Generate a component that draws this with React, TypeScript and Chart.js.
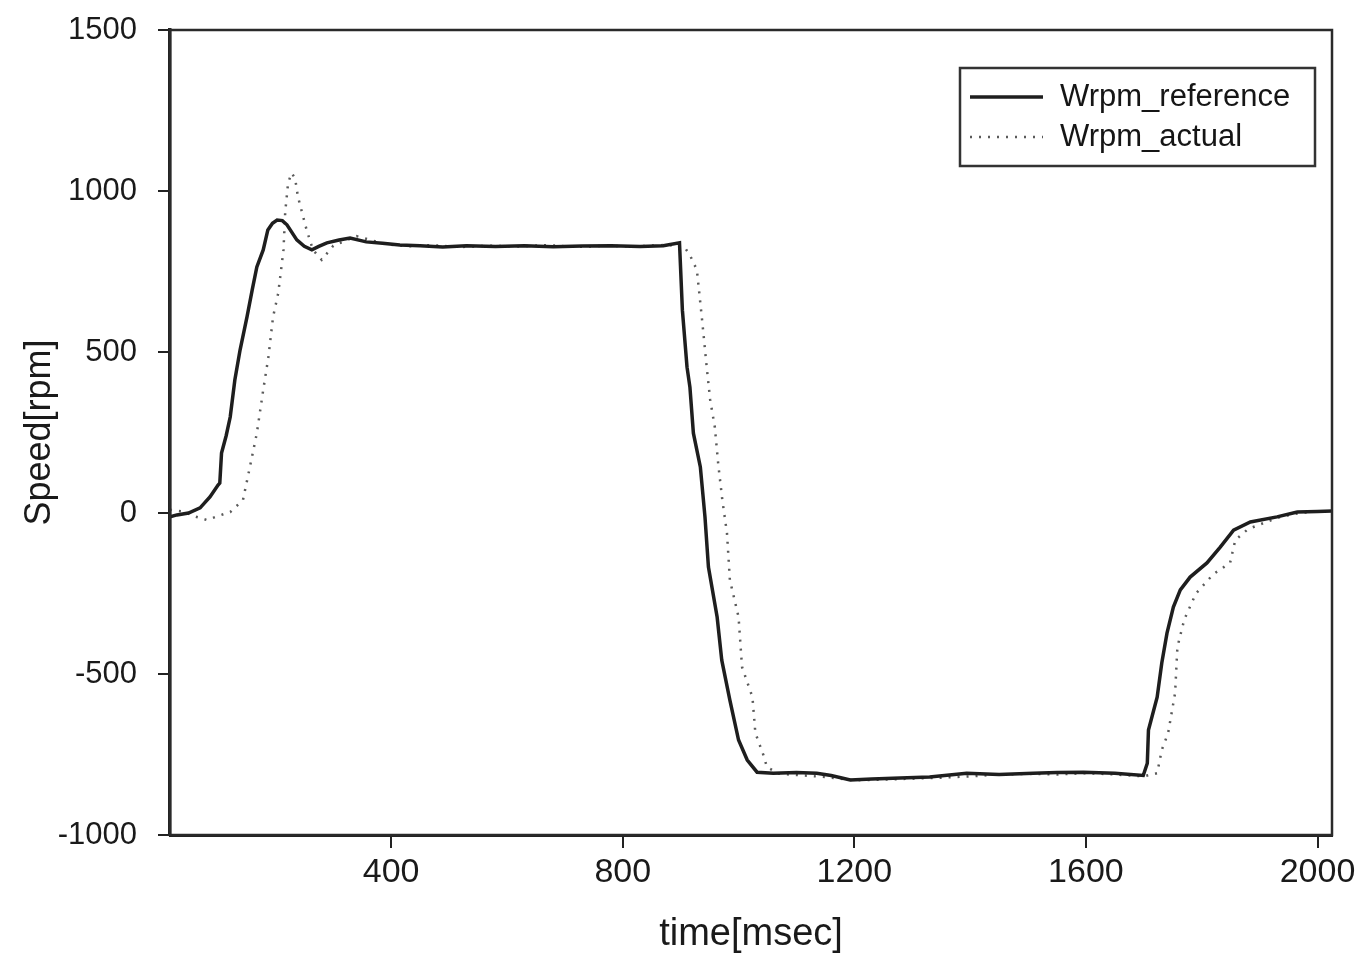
import React, { useEffect, useRef } from "react";
import { Chart, registerables } from "chart.js";
Chart.register(...registerables);

const refTime = [
  18, 30, 50, 70, 87, 101, 104, 107, 115, 122,
  130, 139, 151, 160, 168, 179, 187, 195, 203, 212,
  220, 237, 250, 263, 275, 289, 310, 329, 357, 385,
  415, 450, 489, 530, 580, 630, 680, 730, 780, 830,
  870, 898, 903, 911, 916, 922, 934, 942, 948, 963,
  971, 985, 1000, 1015, 1032, 1060, 1100, 1135, 1160, 1193,
  1230, 1279, 1330, 1394, 1450, 1509, 1550, 1596, 1650, 1699,
  1706, 1708, 1723, 1731, 1740, 1751, 1763, 1780, 1809, 1832,
  1855, 1884, 1930, 1965, 2000, 2025,
];
const refSpeed = [
  -12, -6, 0, 16, 50, 87, 93, 186, 240, 298,
  413, 506, 609, 693, 764, 817, 879, 900, 910, 908,
  895, 848, 828, 817, 828, 839, 848, 854, 842, 838,
  832, 830, 826, 830, 828, 830, 827, 829, 830, 828,
  830, 839, 630, 453, 391, 248, 143, -12, -168, -323,
  -457, -581, -705, -767, -805, -808, -806, -808, -815, -829,
  -826, -823, -820, -808, -812, -808, -806, -805, -808, -815,
  -777, -674, -572, -466, -373, -292, -239, -199, -155, -106,
  -53, -28, -12, 3, 5, 6,
];
const actTime = [
  18, 40, 60, 82, 100, 122, 144, 156, 168, 179,
  188, 196, 205, 214, 217, 222, 228, 234, 239, 254,
  265, 280, 300, 320, 340, 360, 390, 430, 470, 520,
  570, 620, 670, 720, 770, 820, 870, 905, 916, 928,
  937, 945, 951, 959, 965, 972, 980, 985, 1000, 1006,
  1024, 1029, 1043, 1049, 1070, 1110, 1150, 1200, 1250, 1300,
  1350, 1400, 1450, 1500, 1550, 1600, 1650, 1700, 1723, 1731,
  1742, 1754, 1758, 1770, 1790, 1820, 1849, 1858, 1880, 1907,
  1936, 1970, 2000, 2025,
];
const actSpeed = [
  10, 5, -10, -22, -10, 3, 40, 143, 248, 382,
  485, 609, 683, 817, 935, 1025, 1056, 1040, 982, 879,
  817, 786, 830, 845, 860, 850, 835, 828, 832, 826,
  830, 828, 832, 826, 830, 828, 832, 830, 801, 755,
  600, 453, 351, 267, 150, 40, -62, -208, -323, -478,
  -572, -683, -752, -789, -810, -815, -820, -830, -828, -825,
  -822, -818, -812, -810, -812, -808, -812, -818, -808, -736,
  -683, -559, -416, -330, -250, -190, -155, -84, -50, -31,
  -12, 0, 5, 6,
];
const xTickValues = [400, 800, 1200, 1600, 2000];
const yTickValues = [-1000, -500, 0, 500, 1000, 1500];
const seriesNames = ["Wrpm_reference", "Wrpm_actual"];
const xTitle = "time[msec]";
const yTitle = "Speed[rpm]";

const FONT = "'Liberation Sans', Arial, 'DejaVu Sans', sans-serif";
const W = 1362;
const H = 959;

const framePlugin = {
  id: "frame",
  afterDatasetsDraw(chart: any) {
    const { ctx, chartArea } = chart;
    ctx.save();
    ctx.strokeStyle = "#2a2a2a";
    ctx.lineWidth = 2.5;
    ctx.strokeRect(chartArea.left, chartArea.top, chartArea.right - chartArea.left, chartArea.bottom - chartArea.top);
    ctx.restore();
  },
};

const legendPlugin = {
  id: "boxLegend",
  afterDatasetsDraw(chart: any) {
    const { ctx, chartArea } = chart;
    const w = 355;
    const h = 98;
    const right = chartArea.right - 17;
    const top = chartArea.top + 38;
    const left = right - w;
    ctx.save();
    ctx.fillStyle = "#ffffff";
    ctx.fillRect(left, top, w, h);
    ctx.strokeStyle = "#333333";
    ctx.lineWidth = 2.5;
    ctx.strokeRect(left, top, w, h);
    ctx.font = `31px ${FONT}`;
    ctx.textBaseline = "middle";
    ctx.textAlign = "left";
    chart.data.datasets.forEach((ds: any, i: number) => {
      const y = top + 29 + i * 40;
      ctx.beginPath();
      ctx.setLineDash(ds.borderDash || []);
      ctx.strokeStyle = ds.borderColor;
      ctx.lineWidth = ds.borderWidth;
      ctx.moveTo(left + 10, y);
      ctx.lineTo(left + 83, y);
      ctx.stroke();
      ctx.setLineDash([]);
      ctx.fillStyle = "#151515";
      ctx.fillText(ds.label, left + 100, y);
    });
    ctx.restore();
  },
};

export default function App() {
  const canvasRef = useRef<HTMLCanvasElement | null>(null);

  useEffect(() => {
    if (!canvasRef.current) return;
    const refData = refTime.map((t, i) => ({ x: t, y: refSpeed[i] }));
    const actData = actTime.map((t, i) => ({ x: t, y: actSpeed[i] }));
    const chart = new Chart(canvasRef.current, {
      type: "line",
      data: {
        datasets: [
          {
            label: seriesNames[0],
            data: refData,
            borderColor: "#1e1e1e",
            borderWidth: 3.5,
            pointRadius: 0,
            tension: 0,
            fill: false,
          },
          {
            label: seriesNames[1],
            data: actData,
            borderColor: "#5a5a5a",
            borderWidth: 2.5,
            borderDash: [2, 7],
            pointRadius: 0,
            tension: 0,
            fill: false,
          },
        ],
      },
      options: {
        responsive: false,
        animation: false,
        layout: { padding: { left: 0, right: 30, top: 30, bottom: 0 } },
        plugins: {
          legend: { display: false },
          tooltip: { enabled: false },
        },
        scales: {
          x: {
            type: "linear",
            min: 18,
            max: 2025,
            afterBuildTicks: (scale: any) => {
              scale.ticks = xTickValues.map((v) => ({ value: v }));
            },
            afterFit: (scale: any) => {
              scale.height = 124;
            },
            ticks: {
              color: "#1a1a1a",
              font: { family: FONT, size: 34 },
              padding: 4,
              maxRotation: 0,
              autoSkip: false,
              callback: (v: any) => String(v),
            },
            grid: {
              display: true,
              drawOnChartArea: false,
              drawTicks: true,
              tickLength: 13,
              color: "#222",
              lineWidth: 2,
            },
            border: { display: true, color: "#222", width: 3 },
            title: {
              display: true,
              text: xTitle,
              color: "#1a1a1a",
              font: { family: FONT, size: 38 },
              padding: { top: 0, bottom: 2 },
            },
          },
          y: {
            type: "linear",
            min: -1000,
            max: 1500,
            afterBuildTicks: (scale: any) => {
              scale.ticks = yTickValues.map((v) => ({ value: v }));
            },
            afterFit: (scale: any) => {
              scale.width = 170;
              scale.paddingTop = 0;
              scale.paddingBottom = 0;
            },
            ticks: {
              color: "#1a1a1a",
              font: { family: FONT, size: 31 },
              padding: 21,
              autoSkip: false,
              callback: (v: any) => String(v),
            },
            grid: {
              display: true,
              drawOnChartArea: false,
              drawTicks: true,
              tickLength: 12,
              color: "#222",
              lineWidth: 2,
            },
            border: { display: true, color: "#222", width: 3.5 },
            title: {
              display: true,
              text: yTitle,
              color: "#1a1a1a",
              font: { family: FONT, size: 36 },
              padding: { top: 18, bottom: 0 },
            },
          },
        },
      },
      plugins: [framePlugin, legendPlugin],
    });
    return () => chart.destroy();
  }, []);

  return (
    <div style={{ position: "fixed", left: 0, top: 0, width: W, height: H, background: "#fff" }}>
      <canvas ref={canvasRef} width={W} height={H} style={{ display: "block" }} />
    </div>
  );
}
